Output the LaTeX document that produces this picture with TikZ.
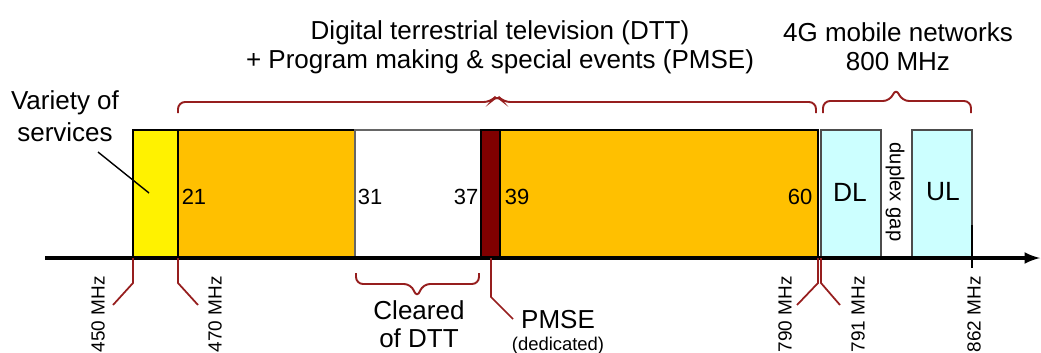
\documentclass[tikz,border=0pt]{standalone}
\usepackage{fontspec}
\setmainfont{Liberation Sans}
\usetikzlibrary{positioning}
\definecolor{dttorange}{RGB}{255,192,0}
\definecolor{pmsered}{RGB}{128,0,0}
\definecolor{lteblue}{RGB}{204,255,255}
\definecolor{bracered}{RGB}{150,30,30}

\begin{document}
\begin{tikzpicture}[x=0.02cm, y=-0.02cm,
  band/.style={draw=black, line width=0.6pt},
  brc/.style={draw=bracered, line width=1.1pt, rounded corners=4pt},
  tickline/.style={draw=bracered, line width=1pt},
  big/.style={font=\fontsize{14.8}{16.5}\selectfont, align=center, inner sep=0pt},
  chan/.style={font=\fontsize{12.5}{14}\selectfont, inner sep=0pt},
  mhz/.style={font=\fontsize{10.8}{12}\selectfont, rotate=90, anchor=east, inner sep=0pt}]
  \clip (0,0) rectangle (1041,352);
  % bands
  \filldraw[band, fill=yellow] (133,130) rectangle (178,258);
  \filldraw[band, fill=dttorange] (178,130) rectangle (355,258);
  \filldraw[band, draw=black!60, fill=white] (355,130) rectangle (481,258);
  \filldraw[band, fill=pmsered] (481,130) rectangle (500,258);
  \filldraw[band, fill=dttorange] (500,130) rectangle (818,258);
  \filldraw[band, draw=black!70, fill=lteblue] (821,130) rectangle (881,258);
  \filldraw[band, draw=black!70, fill=lteblue] (912,130) rectangle (972,258);
  % channel numbers
  \node[chan] (c21) at (194,197) {21};
  \node[chan] (c31) at (370,197) {31};
  \node[chan] (c37) at (466,197) {37};
  \node[chan] (c39) at (517,197) {39};
  \node[chan] (c60) at (800,197) {60};
  \node[chan, font=\fontsize{15}{16}\selectfont] (dl) at (850,192) {DL};
  \node[chan, font=\fontsize{15}{16}\selectfont] (ul) at (943,192) {UL};
  \node[chan, font=\fontsize{11.5}{13}\selectfont, rotate=-90] (gap) at (895,192) {duplex gap};
  % axis
  \draw[line width=2pt, -latex] (45,258) -- (1040,258);
  \draw[line width=1pt] (972,225) -- (972,268);
  % braces
  \draw[brc] (178,113) -- (178,102) -- (491,102) -- (497,95) -- (503,102) -- (816,102) -- (816,113);
  \draw[brc] (823,113) -- (823,101) -- (890,101) -- (896,88) -- (902,101) -- (971,101) -- (971,113);
  \draw[brc] (356,273) -- (356,284) -- (411,284) -- (417,298) -- (423,284) -- (479,284) -- (479,273);
  % titles
  \node[big] (dtt) at (500,47) {Digital terrestrial television (DTT)\\+ Program making \& special events (PMSE)};
  \node[big] (lte) at (898,47) {4G mobile networks\\800 MHz};
  \node[big, font=\fontsize{14.8}{18.5}\selectfont] (var) at (65,116) {Variety of\\services};
  \node[big, font=\fontsize{14.8}{16}\selectfont, anchor=north] (clr) at (419,300) {Cleared\\of DTT};
  \node[big] (pmse) at (558,320) {PMSE};
  \node[font=\fontsize{10.5}{11}\selectfont, inner sep=0pt, below=4pt of pmse] (ded) {(dedicated)};
  \coordinate (varin) at (149,193);
  \draw[line width=0.8pt] (98,152) -- (varin);
  % frequency marks
  \foreach \x/\dx/\f/\tx in {133/-20/450/98, 178/20/470/215, 818/-21/790/785, 821/19/791/858} {
    \draw[tickline] (\x,258) -- (\x,283) -- ++(\dx,22);
    \node[mhz] (f\f) at (\tx,276) {\f\ MHz};
  };
  \node[mhz] (f862) at (974,276) {862 MHz};
  \draw[tickline] (491,258) -- (491,297) -- (513,319);
\end{tikzpicture}
\end{document}
